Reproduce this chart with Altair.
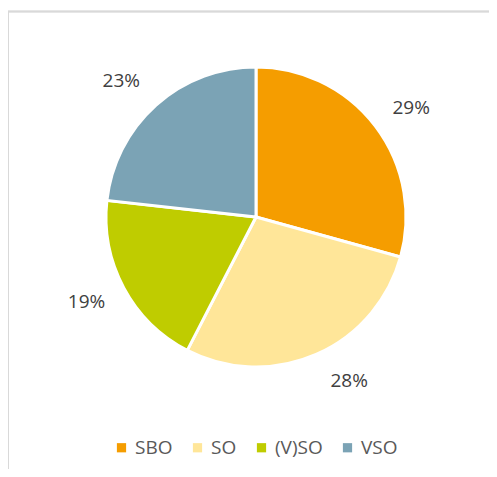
import altair as alt
import pandas as pd

categories = ["SBO", "SO", "(V)SO", "VSO"]
values = [29, 28, 19, 23]
labels = ["29%", "28%", "19%", "23%"]
colors = ["#F59D00", "#FFE699", "#BFCC00", "#7BA3B5"]

# label nudges (styling only)
label_dx = [4, 17, -2, -8]
label_dy = [6, -10, -5, 6]

df = pd.DataFrame({"cat": categories, "val": values, "lab": labels,
                   "order": list(range(len(categories)))})

W, H = 481, 461
cx, cy = 248, 209

base = alt.Chart(df).encode(
    theta=alt.Theta("val:Q", stack=True),
    order=alt.Order("order:Q"),
)

pie = base.mark_arc(outerRadius=150, stroke="white", strokeWidth=3).encode(
    x=alt.value(cx), y=alt.value(cy),
    color=alt.Color("cat:N", scale=alt.Scale(domain=categories, range=colors),
                    sort=categories,
                    legend=alt.Legend(title=None, orient="none", legendX=104, legendY=430,
                                      direction="horizontal", symbolType="square",
                                      symbolSize=85, symbolStrokeWidth=0,
                                      labelFont="Open Sans", labelFontSize=19,
                                      labelColor="#595959", columnPadding=15,
                                      labelOffset=4)),
)

texts = []
for i, c in enumerate(categories):
    texts.append(
        base.mark_text(radius=190, font="Open Sans", fontSize=19, color="#404040",
                       dx=label_dx[i], dy=label_dy[i]).encode(
            x=alt.value(cx), y=alt.value(cy),
            text="lab:N",
            opacity=alt.condition(alt.datum.cat == c, alt.value(1), alt.value(0)),
        )
    )

frame_top = alt.Chart(df).mark_rule(color="#D9D9D9", strokeWidth=1.5).encode(
    x=alt.value(0), x2=alt.value(W), y=alt.value(3.5))
frame_left = alt.Chart(df).mark_rule(color="#D9D9D9", strokeWidth=1.5).encode(
    x=alt.value(0), y=alt.value(3.5), y2=alt.value(H))

chart = alt.layer(frame_top, frame_left, pie, *texts).properties(
    width=W, height=H,
    autosize=alt.AutoSizeParams(type="none"),
    padding=0,
).configure_view(stroke=None)

chart.save("out.html", embed_options={"renderer": "svg", "actions": False})
